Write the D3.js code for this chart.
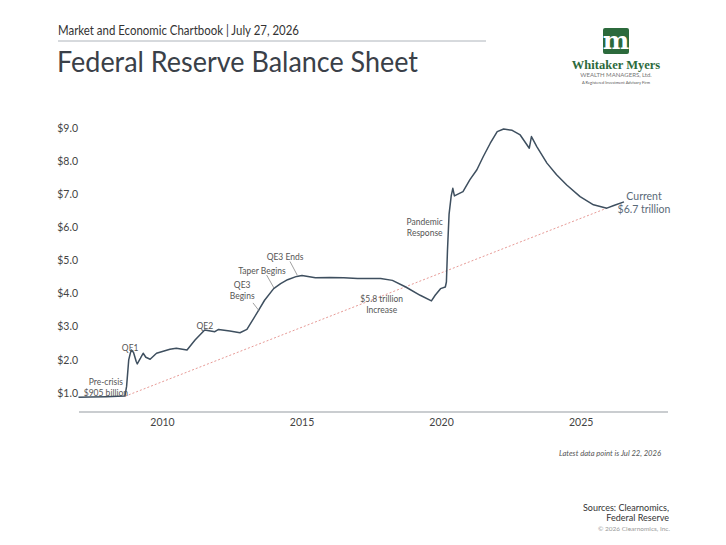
<!DOCTYPE html>
<html>
<head>
<meta charset="utf-8">
<script src="https://cdn.jsdelivr.net/npm/d3@7"></script>
<style>
  body { margin: 0; background: #fff; }
  svg { display: block; font-family: "Lato", "Noto Sans", sans-serif; }
</style>
</head>
<body>
<svg id="chart" width="726" height="545"></svg>
<script>
// weekly balance sheet, sampled by eye (USD trillions)
const dates = ["2007-01-03","2007-06-06","2008-01-02","2008-06-04","2008-09-03","2008-09-24","2008-10-22","2008-11-12","2008-11-26","2008-12-24","2009-01-28","2009-02-11","2009-03-25","2009-04-29","2009-06-03","2009-07-29","2009-10-21","2010-04-14","2010-07-07","2010-11-24","2011-03-09","2011-07-13","2011-11-23","2012-01-11","2012-06-06","2012-10-17","2013-01-16","2013-06-19","2013-09-04","2014-01-01","2014-04-02","2014-07-02","2014-10-29","2015-01-07","2015-07-01","2016-01-06","2016-07-06","2017-01-04","2017-11-01","2018-04-04","2018-09-26","2019-04-03","2019-08-28","2019-10-16","2019-12-25","2020-02-26","2020-03-11","2020-03-25","2020-04-15","2020-05-13","2020-06-03","2020-06-24","2020-10-14","2021-01-13","2021-04-14","2021-07-07","2021-10-06","2022-01-05","2022-03-30","2022-07-20","2022-11-02","2023-03-01","2023-03-29","2023-06-07","2023-10-18","2024-02-21","2024-07-03","2024-12-25","2025-06-18","2025-12-10","2026-03-11","2026-07-22"];
const values = [0.87,0.88,0.89,0.90,0.91,1.20,2.00,2.20,2.30,2.22,1.95,1.88,2.05,2.20,2.08,2.02,2.20,2.32,2.35,2.30,2.60,2.90,2.85,2.92,2.87,2.82,2.92,3.50,3.80,4.15,4.30,4.42,4.52,4.55,4.48,4.49,4.48,4.46,4.46,4.40,4.20,3.95,3.78,3.95,4.15,4.20,4.35,5.30,6.40,6.95,7.18,6.95,7.08,7.44,7.74,8.14,8.54,8.89,8.97,8.93,8.79,8.39,8.74,8.44,7.94,7.59,7.28,6.93,6.68,6.58,6.66,6.77];

// dotted "increase" line: pre-crisis level to the current level
const trendDates = ["2008-09-03", "2025-12-10"];
const trendValues = [0.90, 6.58];

const yTicks = [1, 2, 3, 4, 5, 6, 7, 8, 9];
const xTicks = [2010, 2015, 2020, 2025];

// annotation anchors: first-line baseline in chart units
const notes = [
  { date: "2007-12-28", value: 1.24, lines: ["Pre-crisis", "$905 billion"] },
  { date: "2008-11-10", value: 2.27, lines: ["QE1"] },
  { date: "2011-07-15", value: 2.93, lines: ["QE2"] },
  { date: "2012-11-15", value: 4.17, lines: ["QE3", "Begins"] },
  { date: "2013-08-01", value: 4.60, lines: ["Taper Begins"] },
  { date: "2014-05-30", value: 5.02, lines: ["QE3 Ends"] },
  { date: "2017-11-15", value: 3.76, lines: ["$5.8 trillion", "Increase"] },
  { date: "2019-06-01", value: 6.06, lines: ["Pandemic", "Response"] },
];
const leaders = [
  { from: ["2013-04-05", 3.72], to: ["2013-06-25", 3.48] },
  { from: ["2013-10-01", 4.56], to: ["2014-01-05", 4.17] },
  { from: ["2014-08-03", 4.97], to: ["2014-11-05", 4.56] },
];

const parse = d3.timeParse("%Y-%m-%d");
const series = dates.map((d, i) => ({ date: parse(d), value: values[i] }));
const trend = trendDates.map((d, i) => ({ date: parse(d), value: trendValues[i] }));

const svg = d3.select("#chart");

const x = d3.scaleTime()
  .domain([new Date(2007, 0, 1), new Date(2028, 0, 1)])
  .range([78.3, 664.3]);
const y = d3.scaleLinear().domain([1, 9]).range([393, 128]);

// header
svg.append("text").attr("x", 58).attr("y", 35)
  .attr("font-size", 12.5).attr("fill", "#333")
  .attr("textLength", 241).attr("lengthAdjust", "spacingAndGlyphs")
  .text("Market and Economic Chartbook | July 27, 2026");
svg.append("line").attr("x1", 58).attr("x2", 486).attr("y1", 41).attr("y2", 41)
  .attr("stroke", "#aeb4bb").attr("stroke-width", 1);
svg.append("text").attr("x", 57).attr("y", 72)
  .attr("font-size", 28).attr("fill", "#3a4048")
  .attr("textLength", 361).attr("lengthAdjust", "spacingAndGlyphs")
  .text("Federal Reserve Balance Sheet");

// logo
const logo = svg.append("g");
logo.append("rect").attr("x", 603).attr("y", 28).attr("width", 26).attr("height", 26)
  .attr("rx", 2).attr("fill", "#2c6a3c");
logo.append("text").attr("x", 616).attr("y", 49).attr("text-anchor", "middle")
  .attr("font-family", "DejaVu Serif, serif").attr("font-weight", "bold")
  .attr("font-size", 25).attr("fill", "#fff").text("m");
logo.append("text").attr("x", 616).attr("y", 69).attr("text-anchor", "middle")
  .attr("font-family", "Liberation Serif, serif").attr("font-weight", "bold")
  .attr("font-size", 12.5).attr("fill", "#2c6a3c").text("Whitaker Myers");
logo.append("text").attr("x", 616).attr("y", 77).attr("text-anchor", "middle")
  .attr("font-size", 6).attr("fill", "#777").text("WEALTH MANAGERS, Ltd.");
logo.append("text").attr("x", 616).attr("y", 84).attr("text-anchor", "middle")
  .attr("font-size", 4).attr("fill", "#555").text("A Registered Investment Advisory Firm");

// y labels, no axis line
svg.append("g").selectAll("text")
  .data(yTicks)
  .join("text")
  .attr("x", 78).attr("y", d => y(d)).attr("dy", "0.35em")
  .attr("text-anchor", "end").attr("font-size", 10.5).attr("fill", "#444")
  .text(d => "$" + d.toFixed(1));

// x axis
svg.append("line").attr("x1", 79).attr("x2", 668).attr("y1", 412).attr("y2", 412)
  .attr("stroke", "#b8bcc0").attr("stroke-width", 1.5);
const xAxis = svg.append("g").attr("transform", "translate(0,412)")
  .call(d3.axisBottom(x).tickValues(xTicks.map(t => new Date(t, 0, 1)))
    .tickFormat(d3.timeFormat("%Y")).tickSize(0).tickPadding(7));
xAxis.select(".domain").remove();
xAxis.selectAll("text").attr("font-size", 10.5).attr("fill", "#444")
  .attr("font-family", "Lato, sans-serif");

// trend line
svg.append("path").datum(trend)
  .attr("fill", "none").attr("stroke", "#e79a96").attr("stroke-width", 1)
  .attr("stroke-dasharray", "2,2")
  .attr("d", d3.line().x(d => x(d.date)).y(d => y(d.value)));

// balance sheet line
svg.append("path").datum(series)
  .attr("fill", "none").attr("stroke", "#3e4f5f").attr("stroke-width", 1.5)
  .attr("stroke-linejoin", "round")
  .attr("d", d3.line().x(d => x(d.date)).y(d => y(d.value)));

// annotations
const noteG = svg.append("g").attr("font-size", 8.5).attr("fill", "#555").attr("text-anchor", "middle");
notes.forEach(n => {
  const cx = x(parse(n.date));
  const t = noteG.append("text").attr("x", cx).attr("y", y(n.value));
  n.lines.forEach((l, i) => t.append("tspan").attr("x", cx).attr("dy", i ? 11 : 0).text(l));
});
svg.append("g").selectAll("line")
  .data(leaders)
  .join("line")
  .attr("x1", d => x(parse(d.from[0]))).attr("y1", d => y(d.from[1]))
  .attr("x2", d => x(parse(d.to[0]))).attr("y2", d => y(d.to[1]))
  .attr("stroke", "#888").attr("stroke-width", 0.8);

// current label
const cur = svg.append("text").attr("font-size", 10.5).attr("fill", "#5a6a78").attr("text-anchor", "middle");
cur.append("tspan").attr("x", 644).attr("y", 200).text("Current");
cur.append("tspan").attr("x", 644).attr("y", 213).text("$6.7 trillion");

// footer
svg.append("text").attr("x", 661).attr("y", 456).attr("text-anchor", "end")
  .attr("font-size", 8).attr("font-style", "italic").attr("fill", "#555")
  .attr("textLength", 102).attr("lengthAdjust", "spacingAndGlyphs")
  .text("Latest data point is Jul 22, 2026");
const src = svg.append("text").attr("text-anchor", "end").attr("font-size", 9).attr("fill", "#333");
src.append("tspan").attr("x", 669).attr("y", 511).text("Sources: Clearnomics,");
src.append("tspan").attr("x", 669).attr("y", 521).text("Federal Reserve");
svg.append("text").attr("x", 670).attr("y", 531).attr("text-anchor", "end")
  .attr("font-size", 6.5).attr("fill", "#999").text("© 2026 Clearnomics, Inc.");
</script>
</body>
</html>
